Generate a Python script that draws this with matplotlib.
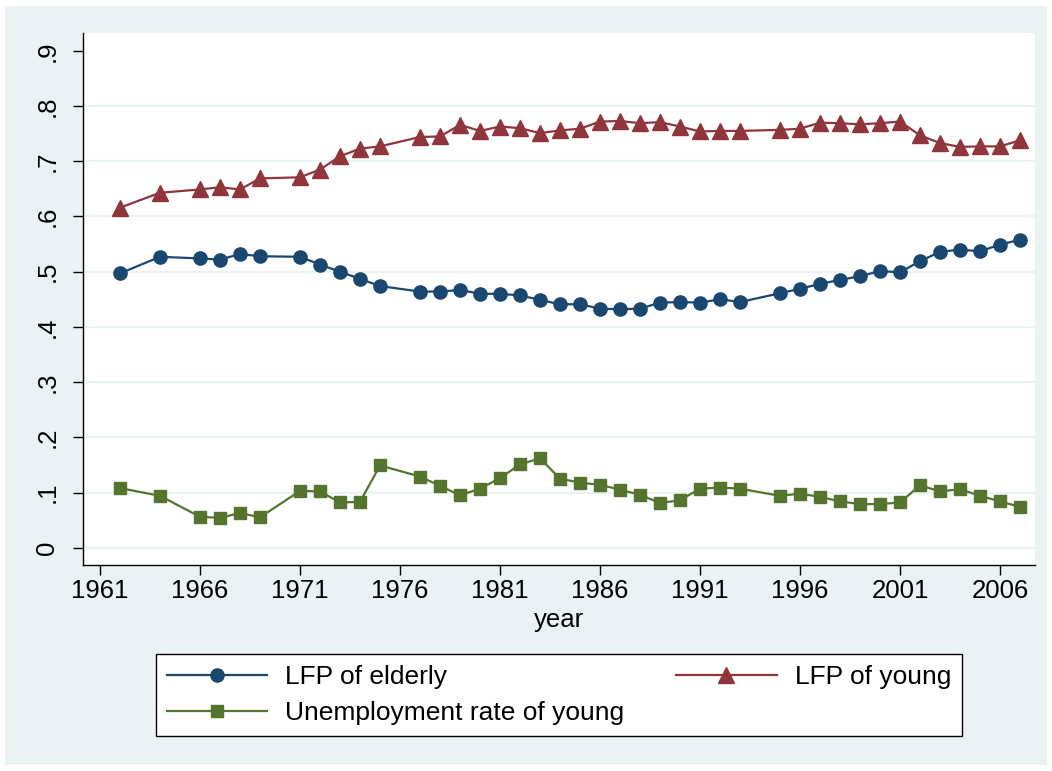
import matplotlib.pyplot as plt
from matplotlib.patches import Rectangle
import numpy as np

plt.rcParams['font.family'] = ['Liberation Sans', 'DejaVu Sans']

# data
years = [1962, 1964, 1966, 1967, 1968, 1969, 1971, 1972, 1973, 1974, 1975,
         1977, 1978, 1979, 1980, 1981, 1982, 1983, 1984, 1985, 1986, 1987,
         1988, 1989, 1990, 1991, 1992, 1993, 1995, 1996, 1997, 1998, 1999,
         2000, 2001, 2002, 2003, 2004, 2005, 2006, 2007]

lfp_elderly = [0.497, 0.527, 0.524, 0.522, 0.532, 0.528, 0.527, 0.513, 0.500, 0.487, 0.474,
               0.464, 0.464, 0.467, 0.460, 0.460, 0.457, 0.449, 0.441, 0.441, 0.433, 0.432,
               0.433, 0.444, 0.445, 0.444, 0.450, 0.445, 0.461, 0.469, 0.478, 0.485, 0.492,
               0.501, 0.499, 0.519, 0.536, 0.540, 0.537, 0.549, 0.558]

lfp_young = [0.616, 0.643, 0.649, 0.653, 0.649, 0.669, 0.671, 0.685, 0.709, 0.723, 0.727,
             0.744, 0.745, 0.766, 0.755, 0.763, 0.760, 0.751, 0.756, 0.759, 0.772, 0.773,
             0.769, 0.771, 0.763, 0.754, 0.755, 0.755, 0.757, 0.759, 0.770, 0.769, 0.767,
             0.769, 0.772, 0.747, 0.733, 0.726, 0.727, 0.727, 0.738]

unemp_young = [0.108, 0.094, 0.056, 0.054, 0.063, 0.055, 0.103, 0.102, 0.082, 0.083, 0.149,
               0.129, 0.112, 0.095, 0.107, 0.126, 0.151, 0.162, 0.125, 0.118, 0.114, 0.105,
               0.096, 0.081, 0.086, 0.107, 0.109, 0.107, 0.094, 0.098, 0.092, 0.084, 0.079,
               0.079, 0.082, 0.113, 0.102, 0.106, 0.094, 0.084, 0.074]

xticks = [1961, 1966, 1971, 1976, 1981, 1986, 1991, 1996, 2001, 2006]
yticks = [0, 0.1, 0.2, 0.3, 0.4, 0.5, 0.6, 0.7, 0.8, 0.9]
ylabels = ['0', '.1', '.2', '.3', '.4', '.5', '.6', '.7', '.8', '.9']

navy = '#1A476F'
maroon = '#90353B'
green = '#55752F'
bg = '#EAF2F3'

fig = plt.figure(figsize=(10.52, 7.71), dpi=100)
fig.patch.set_facecolor('white')
fig.add_artist(Rectangle((5/1052, 6/771), 1042/1052, 759/771,
                         transform=fig.transFigure, facecolor=bg,
                         edgecolor='none', zorder=-10))

ax = fig.add_axes([83/1052, 1 - 565/771, (1035 - 83)/1052, (565 - 33)/771])
ax.set_facecolor('white')

l1, = ax.plot(years, lfp_elderly, color=navy, lw=1.6, marker='o', ms=9.5, zorder=3)
l2, = ax.plot(years, lfp_young, color=maroon, lw=1.6, marker='^', ms=11, zorder=3)
l3, = ax.plot(years, unemp_young, color=green, lw=1.6, marker='s', ms=9, zorder=3)

ax.set_xlim(1960.15, 2007.75)
ax.set_ylim(-0.0313, 0.9324)

ax.set_xticks(xticks)
ax.set_xticklabels([str(y) for y in xticks])
ax.set_yticks(yticks)
ax.set_yticklabels(ylabels, rotation=90, va='center')

ax.tick_params(axis='x', labelsize=18.5, length=7, width=1, pad=3)
ax.tick_params(axis='y', labelsize=18.5, length=7, width=1, pad=10)

ax.grid(axis='y', color=bg, lw=1.6, zorder=0)
ax.yaxis.get_gridlines()[-1].set_visible(False)

for s in ['top', 'right']:
    ax.spines[s].set_visible(False)
for s in ['left', 'bottom']:
    ax.spines[s].set_linewidth(1)

ax.set_xlabel('year', fontsize=18.5, labelpad=4)

leg = fig.legend([l1, l3, l2],
                 ['LFP of elderly', 'Unemployment rate of young', 'LFP of young'],
                 ncol=2, loc='center', mode='expand', borderaxespad=0,
                 bbox_to_anchor=(155.7/1052, 1 - 738.7/771, 806.6/1052, 87/771),
                 bbox_transform=fig.transFigure,
                 fontsize=19, handlelength=3.8, handletextpad=0.68,
                 labelspacing=0.44, borderpad=0.43, fancybox=False,
                 framealpha=1, edgecolor='black')
leg.get_frame().set_linewidth(1)

plt.savefig('out.png', dpi=100)
